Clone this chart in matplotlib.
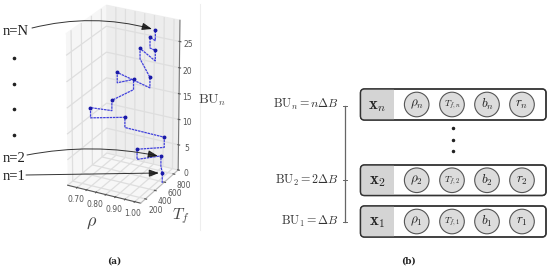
import numpy as np
import matplotlib
matplotlib.use("Agg")
import matplotlib.pyplot as plt
from matplotlib.patches import FancyBboxPatch, Circle, Rectangle

plt.rcParams['mathtext.fontset'] = 'cm'
plt.rcParams['grid.color'] = '#dedede'
plt.rcParams['grid.linewidth'] = 0.9

# panel (a) values
rho = [1.025, 0.987, 0.906, 1.008, 0.799, 0.661, 0.764, 0.797, 0.748, 0.960, 0.824, 0.951, 0.917, 0.955]
tf = [575, 701, 523, 682, 695, 527, 564, 883, 738, 567, 910, 713, 740, 695]
bu = [2, 4, 6, 8, 10, 12, 14, 16, 18, 20, 22, 24, 26, 28]
rho_ticks = [0.70, 0.75, 0.80, 0.85, 0.90, 0.95, 1.00]
rho_labels = ['0.70', '', '0.80', '', '0.90', '', '1.00']
tf_ticks = [200, 400, 600, 800]
bu_ticks = [0, 5, 10, 15, 20, 25]

# panel (b) labels
row_idx = ['n', '2', '1']
row_y = [104.5, 180, 221.5]
row_lab = [r'$\mathrm{BU}_n = n\Delta B$', r'$\mathrm{BU}_2 = 2\Delta B$', r'$\mathrm{BU}_1 = \Delta B$']
circ_x = [416.7, 452, 487, 522]

fig = plt.figure(figsize=(5.5, 2.7), dpi=100)
ax = fig.add_axes([-0.012, 0.094, 0.46, 1.02], projection='3d')
ax.set_proj_type('persp', focal_length=1.6)
ax.view_init(elev=25, azim=-62)
ax.set_box_aspect((1, 1, 2.0), zoom=0.78)

r = np.repeat(rho, 2)
t = np.repeat(tf, 2)
z = np.concatenate([[0], np.repeat(bu, 2)[:-1]])
ax.plot(r, t, z, color='#4040dc', lw=0.9, ls=(0, (2, 0.6)))
ax.plot(rho, tf, bu, ls='none', marker='o', ms=1.8, color='#1a1aa8')

ax.set_xlim(0.65, 1.03); ax.set_ylim(100, 900); ax.set_zlim(0, 29)
ax.set_xticks(rho_ticks); ax.set_xticklabels(rho_labels)
ax.set_yticks(tf_ticks); ax.set_zticks(bu_ticks)
ax.tick_params(labelsize=5.5, colors='#555555')
ax.tick_params(axis='x', pad=-4); ax.tick_params(axis='y', pad=-4); ax.tick_params(axis='z', pad=-1)
for lab in ax.get_yticklabels():
    lab.set_ha('left')
ax.xaxis.set_pane_color('#f6f6f6'); ax.yaxis.set_pane_color('#ededed'); ax.zaxis.set_pane_color('#f7f7f7')
ax.xaxis.line.set_color('#555555'); ax.zaxis.line.set_color('#777777'); ax.yaxis.line.set_color('#bbbbbb')

# overlay in pixel units
ov = fig.add_axes([0, 0, 1, 1], facecolor='none')
ov.set_xlim(0, 550); ov.set_ylim(270, 0); ov.axis('off')
ov.plot([200, 200], [4, 230], color='#eeeeee', lw=0.8)
TXT = '#333333'
ov.text(212, 100, r'$\mathrm{BU}_n$', fontsize=10, color='#444444', ha='center', va='center')
ov.text(92, 222, r'$\rho$', fontsize=13, color='#444444', ha='center', va='center')
ov.text(181, 216, r'$T_f$', fontsize=11.5, color='#444444', ha='center', va='center')
for tx, ty, s in [(16, 31.5, 'n=N'), (14, 158, 'n=2'), (14, 176.5, 'n=1')]:
    ov.text(tx, ty, s, fontsize=10.5, family='Liberation Serif', color='#222222', ha='center', va='center')
ov.plot([14, 14, 14, 14], [58, 84, 109, 135], ls='none', marker='o', ms=1.6, color='#222222')
for start, end, rad in [((32, 28), (152, 29), -0.13), ((27, 155), (158, 156), -0.1), ((26, 175), (159, 173), 0.0)]:
    ov.annotate('', xy=end, xytext=start,
                arrowprops=dict(arrowstyle='-|>,head_length=0.6,head_width=0.22', color='#111111', lw=0.7,
                                connectionstyle=f'arc3,rad={rad}', shrinkA=0, shrinkB=0, alpha=0.85))
ov.text(114, 261, '(a)', fontsize=6.5, family='DejaVu Serif', weight='bold', color='#222222', ha='center', va='center')
ov.text(409, 261, '(b)', fontsize=6.5, family='DejaVu Serif', weight='bold', color='#222222', ha='center', va='center')
ov.plot([345, 345], [row_y[0] + 1.5, row_y[2]], color='#666666', lw=0.9)
for yy, lab in zip(row_y, row_lab):
    ov.plot([343, 347], [yy + (1.5 if yy == row_y[0] else 0)] * 2, color='#666666', lw=0.7)
    ov.text(339, yy, lab, fontsize=8.7, color=TXT, ha='right', va='center')
for (top, bottom), idx in zip([(89, 120), (165, 195.5), (206, 237)], row_idx):
    box = FancyBboxPatch((360.5, top), 185.5, bottom - top, boxstyle='round,pad=0,rounding_size=4',
                         fc='white', ec='#333333', lw=1.0, zorder=2)
    ov.add_patch(box)
    shade = Rectangle((360.5, top), 33, bottom - top, fc='#d4d4d4', ec='none', zorder=3)
    ov.add_patch(shade)
    shade.set_clip_path(box)
    ov.add_patch(FancyBboxPatch((360.5, top), 185.5, bottom - top, boxstyle='round,pad=0,rounding_size=4',
                                fc='none', ec='#333333', lw=1.0, zorder=4))
    cy = (top + bottom) / 2
    ov.text(377, cy, r'$\mathbf{x}_{%s}$' % idx, fontsize=12, color='#222222', ha='center', va='center', zorder=5)
    names = [r'$\rho_{%s}$' % idx, r'$T_{f,%s}$' % idx, r'$b_{%s}$' % idx, r'$r_{%s}$' % idx]
    for cx, nm, fs in zip(circ_x, names, [9.5, 6.5, 9.5, 9.5]):
        ov.add_patch(Circle((cx, cy), 12.3, fc='#dcdcdc', ec='#555555', lw=0.8, zorder=5))
        ov.text(cx, cy, nm, fontsize=fs, color='#222222', ha='center', va='center', zorder=6)
ov.plot([453, 453, 453], [128, 140, 151], ls='none', marker='o', ms=1.5, color='#222222')
fig.savefig('out.png', dpi=100)
